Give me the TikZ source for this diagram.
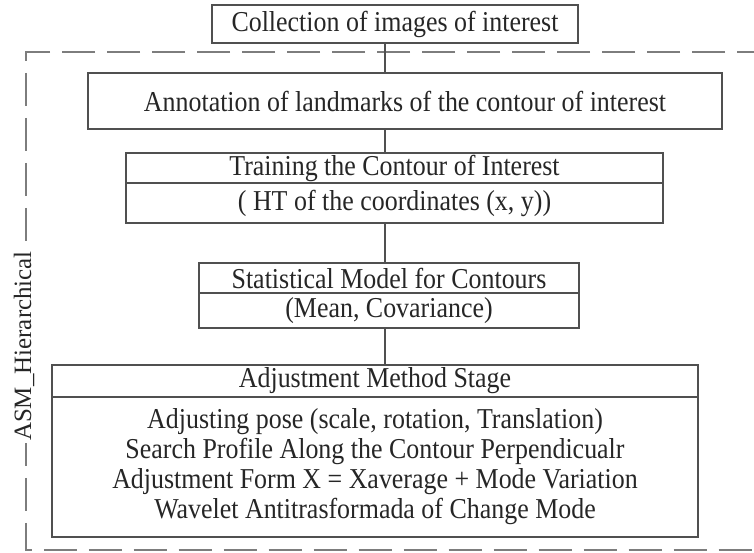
\documentclass[tikz,border=0pt]{standalone}
\usepackage{fontspec}
\setmainfont{Liberation Serif}[FakeStretch=0.9]
\newfontfamily\sidefont{Liberation Serif}
\usetikzlibrary{calc}
\definecolor{boxgray}{RGB}{80, 80, 80}
\definecolor{dashgray}{RGB}{125, 125, 125}

\begin{document}
\begin{tikzpicture}[
  x=0.02cm, y=-0.02cm,
  sbox/.style={draw=boxgray, line width=1.1pt, inner sep=0pt, align=center, text=black!85, font=\fontsize{16.4pt}{17.1pt}\selectfont},
  link/.style={draw=boxgray, line width=1.1pt},
  frame/.style={draw=dashgray, line width=1.4pt, dash pattern=on 0.66cm off 0.24cm}
]
  \useasboundingbox (0,0) rectangle (754,552);

  % dashed frame (open on the right)
  \draw[frame] (770,52) -- (26,52) -- (26,550) -- (770,550);
  \node[fill=white, rotate=90, inner sep=1pt, text=black!85, font=\sidefont\fontsize{14.2pt}{17pt}\selectfont] (asm) at (24,346) {ASM\_Hierarchical};

  \node[sbox, minimum width=7.32cm, minimum height=0.76cm] (collect) at (395,24) {Collection of images of interest};
  \node[sbox, minimum width=12.68cm, minimum height=1.12cm] (annot) at (405,101) {Annotation of landmarks of the contour of interest};

  \node[sbox, minimum width=10.74cm, minimum height=0.6cm] (trainhead) at (394.5,168) {Training the Contour of Interest};
  \node[sbox, minimum width=10.74cm, minimum height=0.8cm] (trainbody) at (394.5,203) {( HT of the coordinates (x, y))};

  \node[sbox, minimum width=7.6cm, minimum height=0.6cm] (stathead) at (389,278) {Statistical Model for Contours};
  \node[sbox, minimum width=7.6cm, minimum height=0.7cm] (statbody) at (389,310.5) {(Mean, Covariance)};

  \node[sbox, minimum width=12.92cm, minimum height=0.64cm] (adjhead) at (375,381) {Adjustment Method Stage};
  \node[sbox, minimum width=12.92cm, minimum height=2.8cm] (adjbody) at (375,467) {Adjusting pose (scale, rotation, Translation)\\
    Search Profile Along the Contour Perpendicualr\\
    Adjustment Form X = Xaverage + Mode Variation\\
    Wavelet Antitrasformada of Change Mode};

  % connectors
  \coordinate (spine) at (385,0);
  \draw[link] (collect.south -| spine) -- (annot.north -| spine);
  \draw[link] (annot.south -| spine) -- (trainhead.north -| spine);
  \draw[link] (trainbody.south -| spine) -- (stathead.north -| spine);
  \draw[link] (statbody.south -| spine) -- (adjhead.north -| spine);
\end{tikzpicture}
\end{document}
